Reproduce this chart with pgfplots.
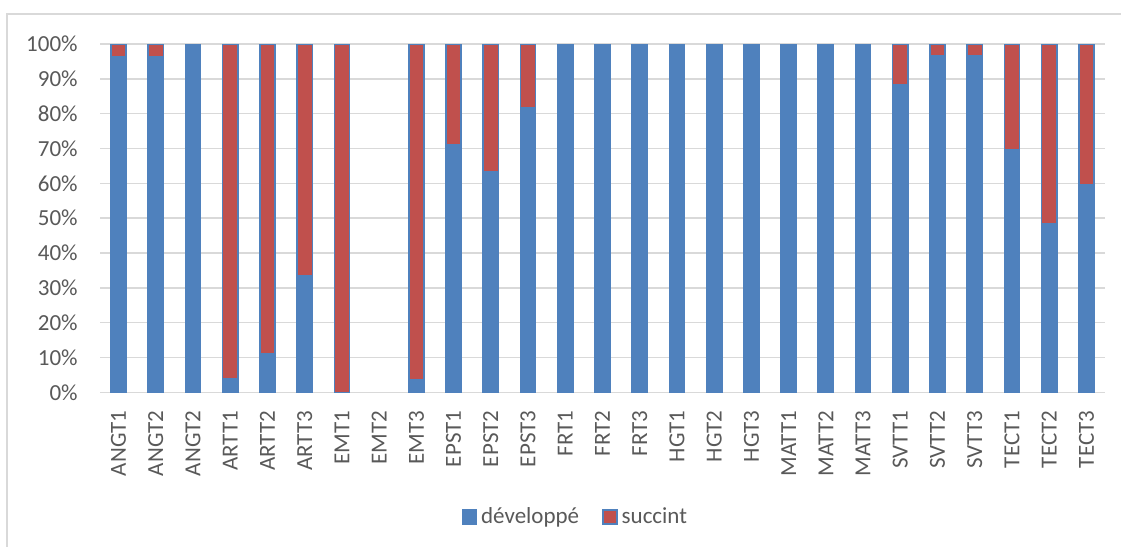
\documentclass[border=0pt]{standalone}
\usepackage{fontspec}
\setmainfont{Carlito}
\usepackage{pgfplots}
\pgfplotsset{compat=1.18}
\definecolor{cblue}{HTML}{4F81BD}
\definecolor{cred}{HTML}{C0504D}
\definecolor{cgrid}{HTML}{D9D9D9}
\definecolor{ctext}{HTML}{595959}
\newcommand\lbl{\fontsize{11.5}{13}\selectfont}
\begin{document}
\begin{tikzpicture}[x=0.5pt,y=0.5pt]
\useasboundingbox (0,0) rectangle (1121,547);
\draw[cgrid, line width=0.75pt] (7,-5) -- (7,533) -- (1130,533);
\begin{axis}[
  at={(50pt,77.35pt)}, anchor=south west,
  scale only axis, width=502.5pt, height=174.15pt,
  ybar stacked, bar width=7.6pt,
  xmin=-0.5, xmax=26.5, ymin=0, ymax=100,
  axis line style={draw=none},
  tick style={draw=none},
  ymajorgrids, major grid style={cgrid, line width=0.75pt},
  ytick={0,10,...,100},
  yticklabels={0\%,10\%,20\%,30\%,40\%,50\%,60\%,70\%,80\%,90\%,100\%},
  xtick={0,...,26},
  xticklabels={ANGT1,ANGT2,ANGT2,ARTT1,ARTT2,ARTT3,EMT1,EMT2,EMT3,EPST1,EPST2,EPST3,FRT1,FRT2,FRT3,HGT1,HGT2,HGT3,MATT1,MATT2,MATT3,SVTT1,SVTT2,SVTT3,TECT1,TECT2,TECT3},
  xticklabel style={yshift=-9pt, rotate=90, anchor=east, inner sep=0pt, font=\lbl, text=ctext},
  yticklabel style={anchor=east, inner sep=0pt, xshift=-11pt, font=\lbl, text=ctext},
  legend style={at={(0.474,-0.358)}, anchor=center, draw=none, fill=none,
    legend columns=2, font=\lbl, text=ctext,
    /tikz/every even column/.append style={column sep=9.5pt}},
  legend image code/.code={\draw[#1] (0pt,-3.5pt) rectangle (7pt,3.5pt);},
]
\addplot[fill=cblue, draw=cblue, line width=0.75pt] coordinates {
(0,96.4) (1,96.4) (2,100) (3,3.8) (4,11.2) (5,33.4) (6,0)
(8,3.6) (9,71) (10,63.2) (11,81.7) (12,100) (13,100) (14,100)
(15,100) (16,100) (17,100) (18,100) (19,100) (20,100)
(21,88.2) (22,96.6) (23,96.6) (24,69.6) (25,48.3) (26,59.5)};
\addplot[fill=cred, draw=cblue, line width=0.75pt] coordinates {
(0,3.6) (1,3.6) (2,0) (3,96.2) (4,88.8) (5,66.6) (6,100)
(8,96.4) (9,29) (10,36.8) (11,18.3) (12,0) (13,0) (14,0)
(15,0) (16,0) (17,0) (18,0) (19,0) (20,0)
(21,11.8) (22,3.4) (23,3.4) (24,30.4) (25,51.7) (26,40.5)};
\legend{développé, succint}
\end{axis}
\end{tikzpicture}
\end{document}
